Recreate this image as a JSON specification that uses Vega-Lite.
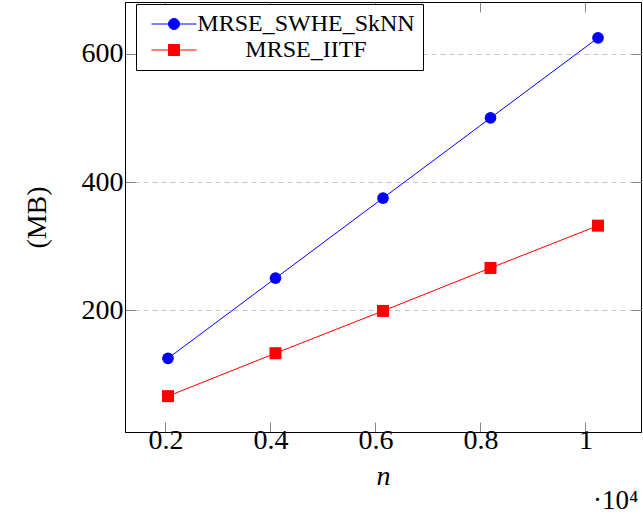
{
  "$schema": "https://vega.github.io/schema/vega-lite/v6.json",
  "width": 516,
  "height": 430,
  "autosize": "none",
  "padding": {"left": 125, "top": 2, "right": 2, "bottom": 86},
  "background": "white",
  "config": {
    "font": "Liberation Serif",
    "view": {"stroke": "black", "strokeWidth": 1},
    "axis": {
      "labelFont": "Liberation Serif",
      "labelFontSize": 28,
      "labelColor": "black",
      "titleFont": "Liberation Serif",
      "titleFontSize": 28,
      "titleFontWeight": "normal",
      "titleColor": "black",
      "domainColor": "black",
      "tickColor": "#888888",
      "tickSize": -10,
      "gridColor": "#c4c4c4",
      "gridDash": [5, 4]
    }
  },
  "title": {
    "text": "·10⁴",
    "orient": "bottom",
    "anchor": "end",
    "fontSize": 27,
    "fontWeight": "normal",
    "font": "Liberation Serif",
    "color": "black",
    "offset": -2,
    "dx": -3
  },
  "data": {
    "values": [
      {"n": 2048, "mb": 125, "series": "MRSE_SWHE_SkNN"},
      {"n": 4096, "mb": 250, "series": "MRSE_SWHE_SkNN"},
      {"n": 6144, "mb": 375, "series": "MRSE_SWHE_SkNN"},
      {"n": 8192, "mb": 500, "series": "MRSE_SWHE_SkNN"},
      {"n": 10240, "mb": 625, "series": "MRSE_SWHE_SkNN"},
      {"n": 2048, "mb": 66, "series": "MRSE_IITF"},
      {"n": 4096, "mb": 133, "series": "MRSE_IITF"},
      {"n": 6144, "mb": 199, "series": "MRSE_IITF"},
      {"n": 8192, "mb": 266, "series": "MRSE_IITF"},
      {"n": 10240, "mb": 332, "series": "MRSE_IITF"}
    ]
  },
  "layer": [
    {
      "mark": {"type": "line", "strokeWidth": 1},
      "encoding": {
        "x": {
          "field": "n", "type": "quantitative",
          "scale": {"domain": [1229, 11059], "nice": false, "zero": false},
          "axis": {"values": [2000, 4000, 6000, 8000, 10000], "labelExpr": "format(datum.value/10000, '~g')", "grid": false, "title": "n", "titleFontStyle": "italic", "labelPadding": 4, "titlePadding": 8}
        },
        "y": {
          "field": "mb", "type": "quantitative",
          "scale": {"domain": [10.1, 680.9], "nice": false, "zero": false},
          "axis": {"values": [200, 400, 600], "grid": true, "title": "(MB)", "labelPadding": 12, "titlePadding": 30}
        },
        "color": {
          "field": "series", "type": "nominal",
          "scale": {"domain": ["MRSE_SWHE_SkNN", "MRSE_IITF"], "range": ["#0000ff", "#ff0000"]},
          "legend": {
            "orient": "none",
            "legendX": 11,
            "legendY": 2,
            "title": null,
            "strokeColor": "black",
            "fillColor": "white",
            "padding": 8,
            "labelFont": "Liberation Serif",
            "labelFontSize": 24,
            "labelColor": "black",
            "labelLimit": 400,
            "symbolType": "circle",
            "symbolSize": 121,
            "symbolOffset": 18,
            "labelOffset": 12,
            "rowPadding": 2,
            "encode": {
              "symbols": {
                "update": {
                  "shape": {"signal": "datum.value === 'MRSE_SWHE_SkNN' ? 'M-4.1,0H4.1M1,0A1,1,0,1,1,-1,0A1,1,0,1,1,1,0Z' : 'M-4.1,0H4.1M-1,-1H1V1H-1Z'"},
                  "fill": {"signal": "datum.value === 'MRSE_SWHE_SkNN' ? '#0000ff' : '#ff0000'"},
                  "stroke": {"signal": "datum.value === 'MRSE_SWHE_SkNN' ? '#0000ff' : '#ff0000'"},
                  "strokeWidth": {"value": 1},
                  "opacity": {"value": 1}
                }
              },
              "labels": {
                "update": {
                  "align": {"value": "center"},
                  "dx": {"value": 108}
                }
              }
            }
          }
        }
      }
    },
    {
      "transform": [{"filter": "datum.series === 'MRSE_SWHE_SkNN'"}],
      "mark": {"type": "point", "shape": "circle", "filled": true, "opacity": 1, "size": 137},
      "encoding": {
        "x": {
          "field": "n", "type": "quantitative",
          "axis": {"orient": "top", "values": [2000, 4000, 6000, 8000, 10000], "labels": false, "domain": false, "grid": false, "title": null}
        },
        "y": {
          "field": "mb", "type": "quantitative",
          "axis": {"orient": "right", "values": [200, 400, 600], "labels": false, "domain": false, "grid": false, "title": null}
        },
        "color": {"field": "series", "type": "nominal"}
      }
    },
    {
      "transform": [{"filter": "datum.series === 'MRSE_IITF'"}],
      "mark": {"type": "point", "shape": "square", "filled": true, "opacity": 1, "size": 144},
      "encoding": {
        "x": {"field": "n", "type": "quantitative", "axis": null},
        "y": {"field": "mb", "type": "quantitative", "axis": null},
        "color": {"field": "series", "type": "nominal"}
      }
    }
  ],
  "resolve": {"axis": {"x": "independent", "y": "independent"}}
}
